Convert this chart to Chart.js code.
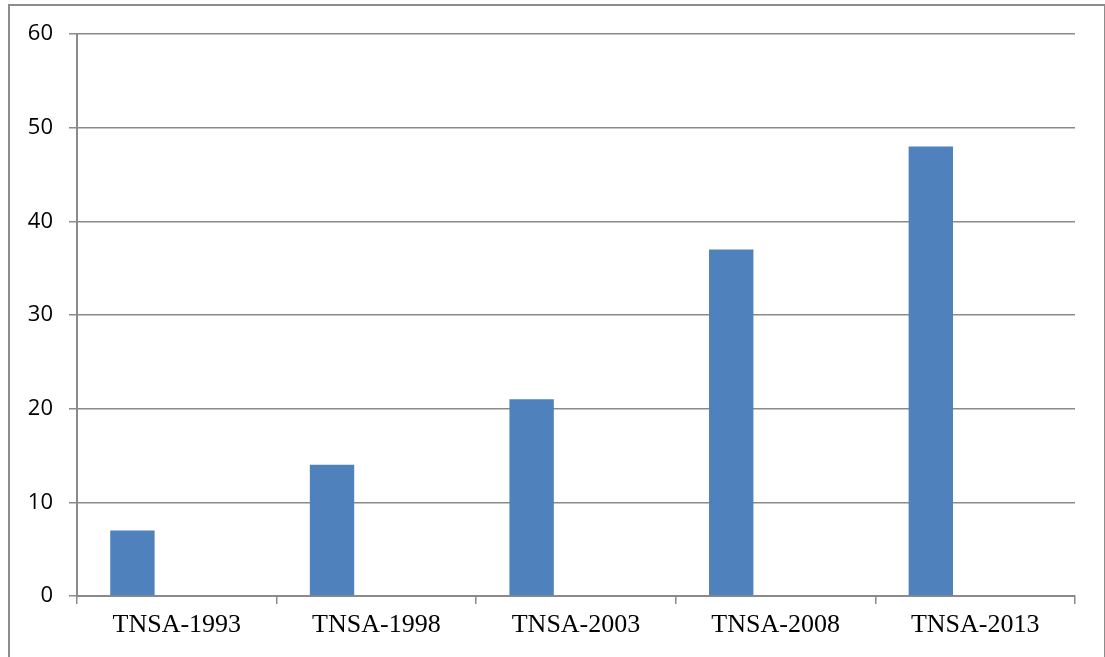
<!DOCTYPE html>
<html lang="en">
<head>
    <meta charset="UTF-8">
    <script src="https://cdn.jsdelivr.net/npm/chart.js"></script>
    <title>TNSA</title>
    <style>
        html, body { margin: 0; padding: 0; background: #fff; overflow: hidden; }
        .frame {
            position: absolute; left: 8px; top: 4px;
            width: 1094px; height: 720px;
            border: 2px solid #8c8c8c;
        }
        .wrap { position: absolute; left: 0; top: 0; width: 1105px; height: 657px; }
    </style>
</head>
<body>
    <div class="frame"></div>
    <div class="wrap">
        <canvas id="myChart" width="1105" height="657"></canvas>
    </div>

<script>
    // dados do grafico
    const categorias = ['TNSA-1993', 'TNSA-1998', 'TNSA-2003', 'TNSA-2008', 'TNSA-2013'];
    const valores = [7, 14, 21, 37, 48];
    // series vazias (o grafico original tem 3 series, so a primeira tem valores)
    const serie2 = [null, null, null, null, null];
    const serie3 = [null, null, null, null, null];
    const ticksY = [0, 10, 20, 30, 40, 50, 60];

    const cinza = '#8a8a8a';

    const ctx = document.getElementById('myChart').getContext('2d');
    const myChart = new Chart(ctx, {
        type: 'bar',
        data: {
            labels: categorias,
            datasets: [
                { label: 'Serie 1', data: valores, backgroundColor: '#4F81BD', categoryPercentage: 0.667, barPercentage: 1 },
                { label: 'Serie 2', data: serie2, backgroundColor: '#C0504D', categoryPercentage: 0.667, barPercentage: 1 },
                { label: 'Serie 3', data: serie3, backgroundColor: '#9BBB59', categoryPercentage: 0.667, barPercentage: 1 }
            ]
        },
        options: {
            responsive: false,
            animation: false,
            layout: { padding: { left: 0, top: 34, right: 30, bottom: 0 } },
            plugins: {
                legend: { display: false },
                tooltip: { enabled: false }
            },
            scales: {
                x: {
                    offset: true,
                    grid: {
                        offset: true,
                        drawOnChartArea: false,
                        drawTicks: true,
                        tickLength: 8,
                        color: cinza,
                        lineWidth: 1.5
                    },
                    border: { color: cinza, width: 2 },
                    ticks: {
                        color: '#000',
                        padding: 6,
                        font: { family: '"Liberation Serif", "Times New Roman", serif', size: 26 }
                    },
                    afterFit: function (scale) { scale.height = 61; }
                },
                y: {
                    min: 0,
                    max: 60,
                    afterBuildTicks: function (scale) {
                        scale.ticks = ticksY.map(v => ({ value: v }));
                    },
                    grid: {
                        color: cinza,
                        lineWidth: 1.5,
                        drawTicks: true,
                        tickLength: 8
                    },
                    border: { color: cinza, width: 2 },
                    ticks: {
                        color: '#000',
                        padding: 16,
                        font: { family: '"Open Sans", "Liberation Sans", sans-serif', size: 22 }
                    },
                    afterFit: function (scale) { scale.width = 77; }
                }
            }
        }
    });
</script>
</body>
</html>
